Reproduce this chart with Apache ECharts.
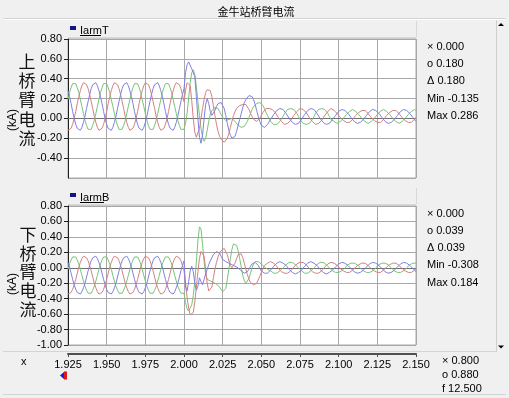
<!DOCTYPE html>
<html><head><meta charset="utf-8">
<script src="https://cdn.jsdelivr.net/npm/echarts@6.0.0/dist/echarts.min.js"></script>
<style>html,body{margin:0;padding:0;background:#f0f0f0;overflow:hidden}#c{width:509px;height:398px}</style>
</head><body><div id="c"></div>
<script>
// sampling grid of the recording (s)
const timeStart = 1.925, timeStep = 0.001;
const xTickLabels = ['1.925','1.950','1.975','2.000','2.025','2.050','2.075','2.100','2.125','2.150'];

// upper arm current IarmT (kA), 1 ms samples from 1.925 s to 2.150 s
const upperGreen = [
.19,.26,.31,.35,.36,.35,.31,.26,.19,.12,.05,-.02,-.07,-.11,-.12,-.11,-.07,-.02,.05,.12,
.19,.26,.31,.35,.36,.35,.31,.26,.19,.12,.05,-.02,-.07,-.11,-.12,-.11,-.07,-.02,.05,.12,
.19,.26,.31,.35,.36,.35,.31,.26,.19,.12,.05,-.02,-.07,-.11,-.12,-.11,-.07,-.02,.05,.12,
.19,.26,.31,.35,.36,.35,.31,.26,.19,.12,.05,-.02,-.07,-.11,-.12,-.11,
-.05,.05,.20,.36,.46,.49,.44,.32,.17,.03,
-.10,-.19,-.23,-.20,-.12,-.03,.04,.08,.10,.11,
.11,.10,.07,.04,.01,-.01,-.02,-.02,-.01,.00,
.00,-.01,-.03,-.05,-.07,-.08,-.09,-.09,-.08,-.06,
-.03,.01,.05,.09,.12,.14,.15,.16,.16,.15,
.13,.10,.06,.03,.00,
-.03,-.05,-.06,-.06,-.06,-.05,-.03,-.01,.02,
.05,.07,.09,.10,.10,.10,.09,.07,.05,.02,-.01,-.03,-.05,-.06,-.06,-.06,-.05,-.03,-.01,.02,
.05,.07,.09,.10,.10,.10,.09,.07,.05,.02,-.01,
-.02,-.03,-.04,-.05,-.04,-.03,-.02,.00,.02,
.04,.06,.07,.08,.09,.08,.07,.06,.04,.02,.00,-.02,-.03,-.04,-.05,-.04,-.03,-.02,.00,.02,
.04,.06,.07,.08,.09,.08,.07,.06,.04,.02,.00,-.02,-.03,-.04,-.05,-.04,-.03,-.02,.00,.02,
.04,.06,.07,.08,.09,.08];
const upperRed = [
-.12,-.12,-.10,-.06,.00,.07,.15,.22,.28,.33,.36,.36,.34,.30,.24,.17,.10,.02,-.04,-.09,
-.12,-.12,-.10,-.06,.00,.07,.15,.22,.28,.33,.36,.36,.34,.30,.24,.17,.10,.02,-.04,-.09,
-.12,-.12,-.10,-.06,.00,.07,.15,.22,.28,.33,.36,.36,.34,.30,.24,.17,.10,.02,-.04,-.09,
-.12,-.12,-.10,-.06,.00,.07,.15,.22,.28,.33,.36,.36,.34,.30,.24,.17,
.28,.36,.38,.33,.18,.00,-.14,-.19,-.18,-.10,
.00,.10,.19,.26,.29,.30,.28,.22,.13,.03,
-.06,-.13,-.18,-.21,-.23,-.24,-.23,-.20,-.15,-.09,
-.03,.03,.07,.10,.12,.13,.14,.14,.14,.14,
.12,.09,.05,.02,-.01,-.02,-.03,-.02,.00,.03,
.06,.08,.10,.10,.10,
.10,.09,.08,.06,.04,.01,-.01,-.03,-.05,
-.06,-.06,-.05,-.04,-.02,.00,.03,.05,.07,.09,.10,.10,.09,.08,.06,.04,.01,-.01,-.03,-.05,
-.06,-.06,-.05,-.04,-.02,.00,.03,.05,.07,.09,.10,
.09,.08,.07,.05,.03,.01,-.01,-.02,-.04,
-.04,-.05,-.04,-.03,-.01,.01,.03,.05,.06,.08,.08,.09,.08,.07,.05,.03,.01,-.01,-.02,-.04,
-.04,-.05,-.04,-.03,-.01,.01,.03,.05,.06,.08,.08,.09,.08,.07,.05,.03,.01,-.01,-.02,-.04,
-.04,-.05,-.04,-.03,-.01,.01];
const upperBlue = [
.28,.22,.15,.07,.00,-.06,-.10,-.12,-.12,-.09,-.04,.02,.10,.17,.24,.30,.34,.36,.36,.33,
.28,.22,.15,.07,.00,-.06,-.10,-.12,-.12,-.09,-.04,.02,.10,.17,.24,.30,.34,.36,.36,.33,
.28,.22,.15,.07,.00,-.06,-.10,-.12,-.12,-.09,-.04,.02,.10,.17,.24,.30,.34,.36,.36,.33,
.28,.22,.15,.07,.00,-.06,-.10,-.12,-.12,-.09,-.04,.02,.10,.17,.24,.30,
.46,.54,.57,.55,.50,.51,.42,.22,.00,-.19,
-.25,-.17,.00,.14,.20,.15,.07,.03,.04,.08,
.12,.15,.16,.16,.14,.10,.03,-.05,-.12,-.17,
-.20,-.20,-.18,-.13,-.07,-.01,.05,.11,.16,.19,
.21,.23,.23,.22,.19,.14,.08,.02,-.03,-.07,
-.09,-.09,-.08,-.06,-.04,
-.01,.01,.04,.06,.08,.09,.10,.10,.09,
.07,.05,.03,.00,-.02,-.04,-.05,-.06,-.06,-.05,-.03,-.01,.01,.04,.06,.08,.09,.10,.10,.09,
.07,.05,.03,.00,-.02,-.04,-.05,-.06,-.06,-.05,-.03,
-.01,.01,.03,.05,.07,.08,.09,.08,.08,
.06,.05,.03,.01,-.01,-.03,-.04,-.05,-.04,-.04,-.02,-.01,.01,.03,.05,.07,.08,.09,.08,.08,
.06,.05,.03,.01,-.01,-.03,-.04,-.05,-.04,-.04,-.02,-.01,.01,.03,.05,.07,.08,.09,.08,.08,
.06,.05,.03,.01,-.01,-.03];

// lower arm current IarmB (kA)
const lowerGreen = [
-.02,.05,.10,.14,.15,.14,.10,.05,-.02,-.10,-.17,-.24,-.29,-.33,-.34,-.33,-.29,-.24,-.17,-.10,
-.02,.05,.10,.14,.15,.14,.10,.05,-.02,-.10,-.17,-.24,-.29,-.33,-.34,-.33,-.29,-.24,-.17,-.10,
-.02,.05,.10,.14,.15,.14,.10,.05,-.02,-.10,-.17,-.24,-.29,-.33,-.34,-.33,-.29,-.24,-.17,-.10,
-.02,.05,.10,.14,.15,.14,.10,.05,-.02,-.10,-.17,-.24,-.29,-.33,-.34,-.33,
-.45,-.53,-.56,-.55,-.48,-.36,-.18,.08,.35,.53,
.50,.30,.08,-.08,-.15,-.17,-.17,-.18,-.19,-.20,
-.21,-.23,-.25,-.28,-.31,-.32,-.27,-.15,-.02,.12,
.24,.31,.32,.29,.22,.12,.01,-.10,-.17,-.20,
-.19,-.14,-.07,.00,.05,.08,.09,.08,.07,.05,
.03,.01,-.01,-.02,-.03,
-.04,-.06,-.07,-.08,-.07,-.06,-.04,-.02,.00,
.02,.04,.06,.07,.08,.07,.06,.04,.02,.00,-.02,-.04,-.06,-.07,-.08,-.07,-.06,-.04,-.02,.00,
.02,.04,.06,.07,.08,.07,.06,.04,.02,.00,-.02,
-.04,-.05,-.06,-.07,-.06,-.05,-.04,-.02,.00,
.02,.04,.05,.06,.07,.06,.05,.04,.02,.00,-.02,-.04,-.05,-.06,-.07,-.06,-.05,-.04,-.02,.00,
.02,.04,.05,.06,.07,.06,.05,.04,.02,.00,-.02,-.04,-.05,-.06,-.07,-.06,-.05,-.04,-.02,.00,
.02,.04,.05,.06,.07,.06];
const lowerRed = [
-.34,-.34,-.32,-.28,-.22,-.15,-.07,.01,.07,.12,.15,.15,.13,.09,.03,-.04,-.12,-.20,-.26,-.31,
-.34,-.34,-.32,-.28,-.22,-.15,-.07,.01,.07,.12,.15,.15,.13,.09,.03,-.04,-.12,-.20,-.26,-.31,
-.34,-.34,-.32,-.28,-.22,-.15,-.07,.01,.07,.12,.15,.15,.13,.09,.03,-.04,-.12,-.20,-.26,-.31,
-.34,-.34,-.32,-.28,-.22,-.15,-.07,.01,.07,.12,.15,.15,.13,.09,.03,-.04,
-.20,-.38,-.52,-.61,-.63,-.58,-.44,-.25,-.05,.12,
.21,.22,.15,-.02,-.20,-.30,-.32,-.25,-.13,-.02,
.07,.14,.19,.22,.24,.25,.23,.17,.09,.03,
.00,.01,.06,.12,.17,.19,.18,.13,.06,-.02,
-.09,-.15,-.19,-.21,-.22,-.22,-.20,-.16,-.11,-.06,
-.01,.03,.05,.06,.07,
.08,.07,.06,.04,.02,-.01,-.03,-.05,-.06,
-.07,-.08,-.07,-.06,-.04,-.02,.01,.03,.05,.06,.07,.08,.07,.06,.04,.02,-.01,-.03,-.05,-.06,
-.07,-.08,-.07,-.06,-.04,-.02,.01,.03,.05,.06,.07,
.07,.06,.05,.03,.01,-.01,-.03,-.04,-.06,
-.06,-.07,-.06,-.05,-.03,-.01,.01,.03,.04,.06,.06,.07,.06,.05,.03,.01,-.01,-.03,-.04,-.06,
-.06,-.07,-.06,-.05,-.03,-.01,.01,.03,.04,.06,.06,.07,.06,.05,.03,.01,-.01,-.03,-.04,-.06,
-.06,-.07,-.06,-.05,-.03,-.01];
const lowerBlue = [
.07,.01,-.07,-.15,-.22,-.28,-.32,-.34,-.34,-.31,-.26,-.20,-.12,-.04,.03,.09,.13,.15,.15,.12,
.07,.01,-.07,-.15,-.22,-.28,-.32,-.34,-.34,-.31,-.26,-.20,-.12,-.04,.03,.09,.13,.15,.15,.12,
.07,.01,-.07,-.15,-.22,-.28,-.32,-.34,-.34,-.31,-.26,-.20,-.12,-.04,.03,.09,.13,.15,.15,.12,
.07,.01,-.07,-.15,-.22,-.28,-.32,-.34,-.34,-.31,-.26,-.20,-.12,-.04,.03,.09,
-.25,-.30,-.18,-.04,.02,-.05,-.20,-.29,-.24,-.13,
-.18,-.22,-.15,-.08,-.02,.04,.09,.13,.17,.19,
.21,.21,.19,.15,.11,.09,.08,.07,.06,.05,
.04,.03,.02,.01,.00,-.02,-.04,-.06,-.07,-.07,
-.05,-.02,.02,.05,.07,.07,.06,.03,-.01,-.04,
-.06,-.07,-.08,-.07,-.05,
-.03,-.01,.02,.04,.06,.07,.08,.07,.06,
.05,.03,.01,-.02,-.04,-.06,-.07,-.08,-.07,-.06,-.05,-.03,-.01,.02,.04,.06,.07,.08,.07,.06,
.05,.03,.01,-.02,-.04,-.06,-.07,-.08,-.07,-.06,-.05,
-.03,-.01,.01,.03,.05,.06,.07,.06,.06,
.04,.03,.01,-.01,-.03,-.05,-.06,-.07,-.06,-.06,-.04,-.03,-.01,.01,.03,.05,.06,.07,.06,.06,
.04,.03,.01,-.01,-.03,-.05,-.06,-.07,-.06,-.06,-.04,-.03,-.01,.01,.03,.05,.06,.07,.06,.06,
.04,.03,.01,-.01,-.03,-.05];

const upperInfo = ['\u00d7 0.000','o 0.180','\u0394 0.180','Min -0.135','Max 0.286'];
const lowerInfo = ['\u00d7 0.000','o 0.039','\u0394 0.039','Min -0.308','Max 0.184'];
const cursorInfo = ['\u00d7 0.800','o 0.880','f 12.500'];

const FONT = "'Liberation Sans Narrow','Liberation Sans',Arial,sans-serif";
const CJK = "'Noto Sans CJK SC',sans-serif";
const GREEN = 'rgb(118,196,118)', RED = 'rgb(214,128,128)', BLUE = 'rgb(128,128,226)';
const GRIDC = '#a8a8a8';

function toPairs(vals){ return vals.map((v,i)=>[+(timeStart + i*timeStep).toFixed(3), v]); }

function xAx(gi, showAxis){
  return {type:'value', gridIndex:gi, min:1.925, max:2.15, interval:0.025,
    position:'bottom', offset: showAxis ? 9 : 0,
    axisLine:{show:showAxis, onZero:false, lineStyle:{color:'#505050', width:2}},
    axisTick:{show:showAxis, inside:false, length:3, lineStyle:{color:'#505050'}},
    axisLabel:{show:showAxis, margin:5, fontSize:11, fontFamily:FONT, color:'#000',
      showMinLabel:true, showMaxLabel:true,
      formatter:(v)=>{ const k=Math.round((v-1.925)/0.025); return xTickLabels[k]||''; }},
    splitLine:{show:true, lineStyle:{color:GRIDC, width:1}}};
}
function yAx(gi, min, hideMin){
  return {type:'value', gridIndex:gi, min:min, max:0.8, interval:0.2,
    axisLine:{show:true, onZero:false, lineStyle:{color:'#202020', width:1}},
    axisTick:{show:true, length:4, lineStyle:{color:'#202020'}},
    axisLabel:{margin:6, fontSize:11, fontFamily:FONT, color:'#000', showMinLabel:!hideMin,
      formatter:(v)=>(Math.abs(v)<1e-9?0:v).toFixed(2)},
    splitLine:{show:true, lineStyle:{color:GRIDC, width:1}}};
}
function ser(name, vals, color, gi, zero){
  const s = {name:name, type:'line', xAxisIndex:gi, yAxisIndex:gi, data:toPairs(vals),
    showSymbol:false, symbol:'none', lineStyle:{color:color, width:1}, itemStyle:{color:color},
    smooth:false, z:3, silent:true};
  if (zero) s.markLine = {silent:true, symbol:'none', label:{show:false}, z:2,
    lineStyle:{color:'#707070', type:'solid', width:1}, data:[{yAxis:0}]};
  return s;
}
function txt(t, x, y, opt){
  return Object.assign({type:'text', silent:true, style:{text:t, x:x, y:y, fill:'#000',
    font:'11px '+FONT, textAlign:'left', verticalAlign:'middle'}}, opt||{});
}

const graphics = [];
// title
graphics.push({type:'line', silent:true, shape:{x1:3,y1:18.5,x2:506,y2:18.5}, style:{stroke:'#d4d4d4'}});
graphics.push({type:'line', silent:true, shape:{x1:3,y1:19.5,x2:506,y2:19.5}, style:{stroke:'#ffffff'}});
graphics.push(txt('金牛站桥臂电流', 256, 12, {style:{text:'金牛站桥臂电流', x:256, y:12, fill:'#000', font:'11px '+CJK, textAlign:'center', verticalAlign:'middle'}}));
// panel header lines
[[37.5,21,416],[204.5,188,416]].forEach(a=>{
  graphics.push({type:'line', silent:true, shape:{x1:68,y1:a[0],x2:416,y2:a[0]}, style:{stroke:'#d8d8d8'}});
  graphics.push({type:'line', silent:true, shape:{x1:416.5,y1:a[1],x2:416.5,y2:a[0]}, style:{stroke:'#d8d8d8'}});
});
// legend tags
graphics.push({type:'rect', silent:true, shape:{x:70,y:26,width:6,height:4}, style:{fill:'#14148a'}});
graphics.push(txt('IarmT', 80, 30.5));
graphics.push({type:'line', silent:true, shape:{x1:80,y1:35.5,x2:101,y2:35.5}, style:{stroke:'#000'}});
graphics.push({type:'rect', silent:true, shape:{x:70,y:193,width:6,height:4}, style:{fill:'#14148a'}});
graphics.push(txt('IarmB', 80, 197.5));
graphics.push({type:'line', silent:true, shape:{x1:80,y1:202.5,x2:104,y2:202.5}, style:{stroke:'#000'}});
// y axis names
graphics.push({type:'text', silent:true, style:{text:'上\n桥\n臂\n电\n流', x:27, y:100, fill:'#111',
  font:'17px '+CJK, lineHeight:19.3, textAlign:'center', verticalAlign:'middle'}});
graphics.push({type:'text', silent:true, style:{text:'下\n桥\n臂\n电\n流', x:28, y:272, fill:'#111',
  font:'17px '+CJK, lineHeight:18.8, textAlign:'center', verticalAlign:'middle'}});
graphics.push({type:'text', silent:true, x:13, y:120, rotation:Math.PI/2, style:{text:'(kA)', x:0, y:0,
  fill:'#000', font:'12px '+FONT, textAlign:'center', verticalAlign:'middle'}});
graphics.push({type:'text', silent:true, x:13, y:284, rotation:Math.PI/2, style:{text:'(kA)', x:0, y:0,
  fill:'#000', font:'12px '+FONT, textAlign:'center', verticalAlign:'middle'}});
// info panels
const upY = [47, 64, 81, 98.5, 116], loY = [214, 231, 248, 265, 282.5];
upperInfo.forEach((t,i)=>graphics.push(txt(t, 427, upY[i])));
lowerInfo.forEach((t,i)=>graphics.push(txt(t, 427, loY[i])));
const cuY = [361, 375, 389];
cursorInfo.forEach((t,i)=>graphics.push(txt(t, 442, cuY[i])));
graphics.push(txt('x', 21, 361.5));
// cursor markers
graphics.push({type:'polygon', silent:true, shape:{points:[[60,375.5],[64.5,371.5],[64.5,379.5]]}, style:{fill:'#1a1ae0'}});
graphics.push({type:'rect', silent:true, shape:{x:64,y:371.5,width:3,height:8}, style:{fill:'#e01818'}});
// frame / scrollbar
graphics.push({type:'line', silent:true, shape:{x1:3,y1:351.5,x2:496,y2:351.5}, style:{stroke:'#d4d4d4'}});
graphics.push({type:'line', silent:true, shape:{x1:3,y1:394.5,x2:506,y2:394.5}, style:{stroke:'#d4d4d4'}});
graphics.push({type:'line', silent:true, shape:{x1:496.5,y1:20,x2:496.5,y2:352}, style:{stroke:'#cfcfcf'}});
graphics.push({type:'polygon', silent:true, shape:{points:[[498,26],[504,26],[501,23]]}, style:{fill:'#000'}});
graphics.push({type:'polygon', silent:true, shape:{points:[[498,345.5],[504,345.5],[501,348.5]]}, style:{fill:'#000'}});

const chart = echarts.init(document.getElementById('c'), null, {renderer:'canvas'});
chart.setOption({
  animation:false,
  backgroundColor:'#f0f0f0',
  grid:[
    {left:68, top:39, width:348, height:139, show:true, backgroundColor:'#ffffff', borderColor:GRIDC, borderWidth:1, containLabel:false},
    {left:68, top:206, width:348, height:139, show:true, backgroundColor:'#ffffff', borderColor:GRIDC, borderWidth:1, containLabel:false}
  ],
  xAxis:[xAx(0,false), xAx(1,true)],
  yAxis:[yAx(0,-0.6,true), yAx(1,-1.0,false)],
  series:[
    ser('IarmT_G', upperGreen, GREEN, 0, true),
    ser('IarmT_R', upperRed, RED, 0, false),
    ser('IarmT_B', upperBlue, BLUE, 0, false),
    ser('IarmB_G', lowerGreen, GREEN, 1, true),
    ser('IarmB_R', lowerRed, RED, 1, false),
    ser('IarmB_B', lowerBlue, BLUE, 1, false)
  ],
  graphic:graphics
});
</script></body></html>
